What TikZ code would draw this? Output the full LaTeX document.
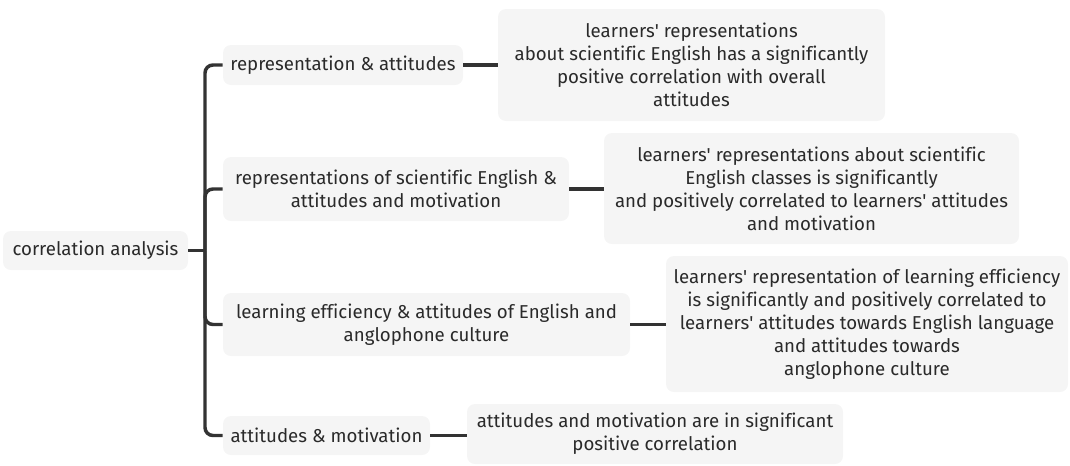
\documentclass[tikz,border=0pt]{standalone}
\usepackage{fontspec}
\setmainfont[Ligatures={NoCommon}]{Fira Sans}
\definecolor{txt}{HTML}{2A2A2A}
\definecolor{boxfill}{HTML}{F5F5F5}
\definecolor{conn}{HTML}{333333}
\newcommand{\ap}{\textquotesingle}
\begin{document}
\begin{tikzpicture}[x=0.75pt,y=-0.75pt,
  topic/.style={fill=boxfill,draw=none,rounded corners=6pt,text=txt,align=center,
    inner sep=0pt,font=\fontsize{14}{17.25}\selectfont},
  link/.style={draw=conn,line width=2.6pt},
  trunk/.style={draw=conn,line width=2.6pt,rounded corners=6pt}]
\useasboundingbox (0,0) rectangle (1070,465);
\node[topic,minimum width=185*0.75pt,minimum height=39*0.75pt] (root) at (95.5,250.5) {correlation analysis};
\node[topic,minimum width=240*0.75pt,minimum height=40*0.75pt] (B1) at (343,65) {representation \& attitudes};
\node[topic,minimum width=346*0.75pt,minimum height=64*0.75pt] (B2) at (396,189) {representations of scientific English \&\\attitudes and motivation};
\node[topic,minimum width=407*0.75pt,minimum height=63*0.75pt] (B3) at (426.5,324.5) {learning efficiency \& attitudes of English and\\anglophone culture};
\node[topic,minimum width=207*0.75pt,minimum height=39*0.75pt] (B4) at (326.5,435.5) {attitudes \& motivation};
\node[topic,minimum width=387*0.75pt,minimum height=112*0.75pt] (L1) at (691.5,65) {learners\ap{} representations\\about scientific English has a significantly\\positive correlation with overall\\attitudes};
\node[topic,minimum width=415*0.75pt,minimum height=111*0.75pt] (L2) at (811.5,188.5) {learners\ap{} representations about scientific\\English classes is significantly\\and positively correlated to learners\ap{} attitudes\\and motivation};
\node[topic,minimum width=402*0.75pt,minimum height=136*0.75pt] (L3) at (867,324) {learners\ap{} representation of learning efficiency\\is significantly and positively correlated to\\learners\ap{} attitudes towards English language\\and attitudes towards\\anglophone culture};
\node[topic,minimum width=376*0.75pt,minimum height=60*0.75pt] (L4) at (655,434) {attitudes and motivation are in significant\\positive correlation};
\coordinate (T) at (205,250.5);
\draw[link] (root.east) -- (T);
\draw[trunk] (B1.west) -| (T) |- (B4.west);
\draw[trunk] (B2.west) -| (T);
\draw[trunk] (B3.west) -| (T);
\draw[link] (B1.east) -- (B1.east -| L1.west);
\draw[link] (B2.east) -- (B2.east -| L2.west);
\draw[link] (B3.east) -- (B3.east -| L3.west);
\draw[link] (B4.east) -- (B4.east -| L4.west);
\end{tikzpicture}
\end{document}
